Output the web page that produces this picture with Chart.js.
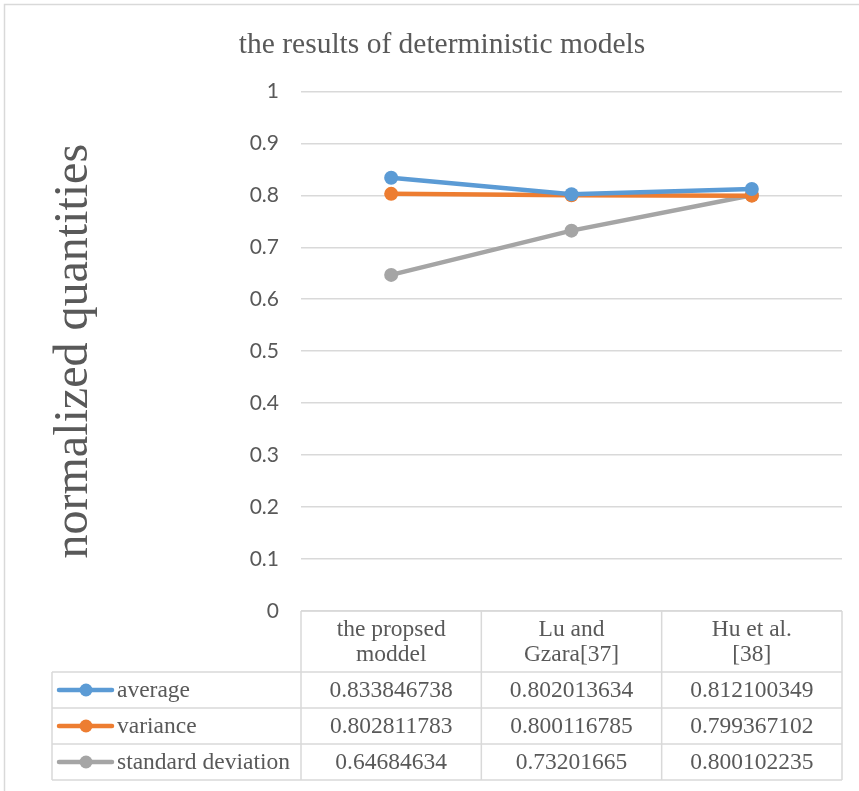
<!DOCTYPE html>
<html>
<head>
<meta charset="utf-8">
<style>
  html, body { margin: 0; padding: 0; background: #ffffff; }
  #wrap { position: relative; width: 859px; height: 791px; }
  canvas { display: block; }
</style>
<script src="https://cdn.jsdelivr.net/npm/chart.js@4/dist/chart.umd.min.js"></script>
</head>
<body>
<div id="wrap"><canvas id="chart" width="859" height="791"></canvas></div>
<script>
// Models compared (header of the data table)
const categories = [['the propsed', 'moddel'], ['Lu and', 'Gzara[37]'], ['Hu et al.', '[38]']];

// Normalized results per model
const averageValues = [0.833846738, 0.802013634, 0.812100349];
const varianceValues = [0.802811783, 0.800116785, 0.799367102];
const stdDevValues = [0.64684634, 0.73201665, 0.800102235];

const seriesNames = ['average', 'variance', 'standard deviation'];
const seriesColors = ['#5B9BD5', '#ED7D31', '#A5A5A5'];

// Y axis tick labels
const yTicks = [0, 0.1, 0.2, 0.3, 0.4, 0.5, 0.6, 0.7, 0.8, 0.9, 1];

const SERIF = '"Liberation Serif", "Times New Roman", serif';
const TEXT = '#595959';
const GRID = '#D9D9D9';

const seriesValues = [averageValues, varianceValues, stdDevValues];

function makeDataset(i) {
  return {
    label: seriesNames[i],
    data: seriesValues[i],
    borderColor: seriesColors[i],
    backgroundColor: seriesColors[i],
    pointBackgroundColor: seriesColors[i],
    pointBorderColor: seriesColors[i],
    borderWidth: 4.5,
    pointRadius: 7,
    pointHoverRadius: 7,
    pointBorderWidth: 0,
    tension: 0,
    fill: false
  };
}

// Page frame and the data table under the plot
const tablePlugin = {
  id: 'dataTable',
  beforeDraw(chart) {
    const ctx = chart.ctx;
    ctx.save();
    ctx.strokeStyle = GRID;
    ctx.lineWidth = 1.5;
    ctx.beginPath();
    ctx.moveTo(4.5, chart.height + 5);
    ctx.lineTo(4.5, 4.5);
    ctx.lineTo(chart.width + 5, 4.5);
    ctx.stroke();
    ctx.restore();
  },
  afterDraw(chart) {
    const ctx = chart.ctx;
    const xs = chart.scales.x;
    const area = chart.chartArea;
    const n = categories.length;
    const colW = (area.right - area.left) / n;
    const colEdges = [];
    for (let i = 0; i <= n; i++) colEdges.push(area.left + i * colW);

    const headerTop = area.bottom;
    const headerBottom = headerTop + 61;
    const rowH = 36;
    const tableLeft = 52;
    const rowEdges = [headerBottom];
    for (let r = 1; r <= seriesNames.length; r++) rowEdges.push(headerBottom + r * rowH);
    const tableBottom = rowEdges[rowEdges.length - 1];

    ctx.save();
    ctx.strokeStyle = GRID;
    ctx.lineWidth = 1.5;
    ctx.beginPath();
    // vertical column lines
    colEdges.forEach(x => {
      ctx.moveTo(x, headerTop);
      ctx.lineTo(x, tableBottom);
    });
    ctx.moveTo(area.left, headerTop);
    ctx.lineTo(area.right, headerTop);
    // row lines
    rowEdges.forEach(y => {
      ctx.moveTo(tableLeft, y);
      ctx.lineTo(area.right, y);
    });
    ctx.moveTo(tableLeft, headerBottom);
    ctx.lineTo(tableLeft, tableBottom);
    ctx.stroke();

    ctx.fillStyle = TEXT;
    ctx.font = '23.5px ' + SERIF;
    ctx.textAlign = 'center';
    ctx.textBaseline = 'middle';

    // header labels, centered on each category position
    categories.forEach((lines, i) => {
      const cx = xs.getPixelForValue(i);
      const lh = 25;
      const y0 = (headerTop + headerBottom) / 2 - (lines.length - 1) * lh / 2 + 1;
      lines.forEach((t, k) => ctx.fillText(t, cx, y0 + k * lh));
    });

    // rows: legend key + values
    seriesNames.forEach((name, r) => {
      const cy = (rowEdges[r] + rowEdges[r + 1]) / 2;
      ctx.strokeStyle = seriesColors[r];
      ctx.lineWidth = 4.5;
      ctx.lineCap = 'round';
      ctx.beginPath();
      ctx.moveTo(59, cy);
      ctx.lineTo(112, cy);
      ctx.stroke();
      ctx.fillStyle = seriesColors[r];
      ctx.beginPath();
      ctx.arc(86, cy, 6.5, 0, Math.PI * 2);
      ctx.fill();

      ctx.fillStyle = TEXT;
      ctx.textAlign = 'left';
      ctx.fillText(name, 117, cy + 1);
      ctx.textAlign = 'center';
      seriesValues[r].forEach((v, i) => {
        ctx.fillText(String(v), xs.getPixelForValue(i), cy + 1);
      });
    });
    ctx.restore();
  }
};

new Chart(document.getElementById('chart'), {
  type: 'line',
  data: {
    labels: categories.map(c => c.join(' ')),
    datasets: [0, 1, 2].map(makeDataset)
  },
  options: {
    responsive: false,
    animation: false,
    events: [],
    layout: { padding: { left: 42, right: 17, top: 0, bottom: 180 } },
    plugins: {
      legend: { display: false },
      tooltip: { enabled: false },
      title: {
        display: true,
        text: 'the results of deterministic models',
        color: TEXT,
        font: { family: SERIF, size: 29.5, weight: 'normal', lineHeight: 1.2 },
        padding: { top: 28, bottom: 28 }
      }
    },
    scales: {
      x: {
        type: 'category',
        display: false,
        offset: true
      },
      y: {
        min: 0,
        max: 1,
        afterFit(scale) { scale.width = 259; },
        afterBuildTicks(scale) { scale.ticks = yTicks.map(v => ({ value: v })); },
        border: { display: false },
        grid: { color: GRID, lineWidth: 1.5, drawTicks: false },
        ticks: {
          color: TEXT,
          padding: 22,
          font: { family: 'Lato, "Open Sans", sans-serif', size: 21 },
          callback: v => String(Math.round(v * 10) / 10)
        },
        title: {
          display: true,
          text: 'normalized quantities',
          color: TEXT,
          font: { family: SERIF, size: 48, weight: 'normal', lineHeight: 1.2 },
          padding: { top: 4, bottom: 0 }
        }
      }
    }
  },
  plugins: [tablePlugin]
});
</script>
</body>
</html>
